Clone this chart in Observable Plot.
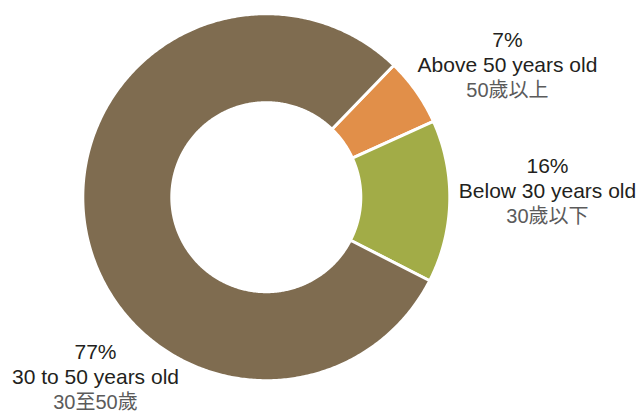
<!DOCTYPE html>
<html><head><meta charset="utf-8">
<script src="https://cdn.jsdelivr.net/npm/d3@7"></script>
<script src="https://cdn.jsdelivr.net/npm/@observablehq/plot@0.6"></script>
<style>body{margin:0;background:#fff;overflow:hidden;}</style>
</head><body><div id="chart"></div>
<script>
// ---- data ----
const categories = ["Above 50 years old", "Below 30 years old", "30 to 50 years old"];
const categoriesZh = ["50歲以上", "30歲以下", "30至50歲"];
const percentLabels = ["7%", "16%", "77%"];
const arcShares = [6.0, 14.3, 79.7]; // arc sizes as drawn in the picture
const sliceColors = ["#e18f49", "#a2ac47", "#7f6c50"];

// ---- layout ----
const W = 640, H = 413, cx = 266.3, cy = 197.2, pxR = 182;
const outerR = (pxR + 1.5) / pxR, innerR = (96 - 1.5) / pxR;
const startDeg = 44;
const labelAt = [[1.3225, 0.7264], [1.5423, 0.0341], [-0.9412, -0.9880]];

const table = categories.map((c, i) => ({
  category: c, zh: categoriesZh[i], pct: percentLabels[i], share: arcShares[i],
  lx: labelAt[i][0], ly: labelAt[i][1]
}));
const a0 = startDeg * Math.PI / 180;
const arcs = d3.pie().sort(null).value(d => d.share).startAngle(a0).endAngle(a0 + 2 * Math.PI)(table);
const ring = arcs.flatMap(a => {
  const n = Math.max(2, Math.ceil((a.endAngle - a.startAngle) / 0.01));
  return d3.range(n + 1).map(k => {
    const t = a.startAngle + (a.endAngle - a.startAngle) * k / n;
    return {category: a.data.category,
      xo: outerR * Math.sin(t), yo: outerR * Math.cos(t),
      xi: innerR * Math.sin(t), yi: innerR * Math.cos(t)};
  });
});

const font = "'Liberation Sans', Arial, 'Noto Sans CJK TC', sans-serif";
const chart = Plot.plot({
  width: W, height: H,
  marginTop: 0, marginRight: 0, marginBottom: 0, marginLeft: 0,
  x: {domain: [-cx / pxR, (W - cx) / pxR], axis: null},
  y: {domain: [-(H - cy) / pxR, cy / pxR], axis: null},
  color: {domain: categories, range: sliceColors},
  style: {fontFamily: font, background: "#fff"},
  marks: [
    Plot.area(ring, {x1: "xo", y1: "yo", x2: "xi", y2: "yi", z: "category", fill: "category", stroke: "white", strokeWidth: 3}),
    Plot.text(table, {x: "lx", y: "ly", text: "pct", dy: -25, fill: "#231f20", fontSize: 21}),
    Plot.text(table, {x: "lx", y: "ly", text: "category", fill: "#231f20", fontSize: 21}),
    Plot.text(table, {x: "lx", y: "ly", text: "zh", dy: 25, fill: "#5b5b5b", fontSize: 20})
  ]
});
document.getElementById("chart").append(chart);
</script>
</body></html>
